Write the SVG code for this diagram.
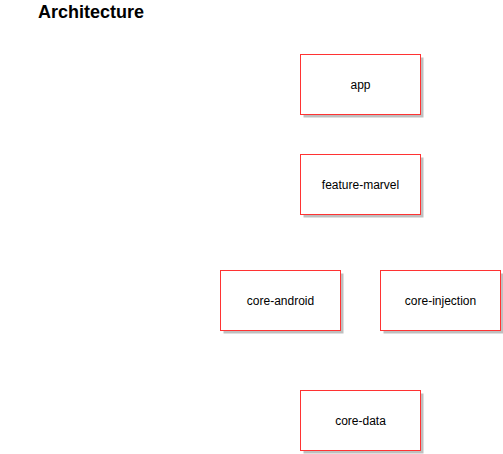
<svg xmlns="http://www.w3.org/2000/svg" width="503" height="454" viewBox="0 0 503 454">
<defs>
<style>
.box{fill:#fff;stroke:#ff3333;stroke-width:1}
.sh{fill:#bfbfbf}
.lbl{font-family:"Liberation Sans",Arial,sans-serif;font-size:12px;fill:#000;text-anchor:middle;dominant-baseline:central}
.title{font-family:"Liberation Sans",Arial,sans-serif;font-size:18px;font-weight:bold;fill:#000}
</style>
</defs>
<rect width="503" height="454" fill="#fff"/>
<text class="title" x="38" y="18">Architecture</text>
<g id="connectors"></g>
<g id="app"><rect class="sh" x="303.5" y="57.5" width="120" height="60"/><rect class="box" x="300.5" y="54.5" width="120" height="60"/><text class="lbl" x="360.5" y="84.5">app</text></g>
<g id="feature-marvel"><rect class="sh" x="303.5" y="157.5" width="120" height="60"/><rect class="box" x="300.5" y="154.5" width="120" height="60"/><text class="lbl" x="360.5" y="184.5">feature-marvel</text></g>
<g id="core-android"><rect class="sh" x="223.5" y="273.5" width="120" height="60"/><rect class="box" x="220.5" y="270.5" width="120" height="60"/><text class="lbl" x="280.5" y="300.5">core-android</text></g>
<g id="core-injection"><rect class="sh" x="383.5" y="273.5" width="120" height="60"/><rect class="box" x="380.5" y="270.5" width="120" height="60"/><text class="lbl" x="440.5" y="300.5">core-injection</text></g>
<g id="core-data"><rect class="sh" x="303.5" y="393.5" width="120" height="60"/><rect class="box" x="300.5" y="390.5" width="120" height="60"/><text class="lbl" x="360.5" y="420.5">core-data</text></g>
</svg>
